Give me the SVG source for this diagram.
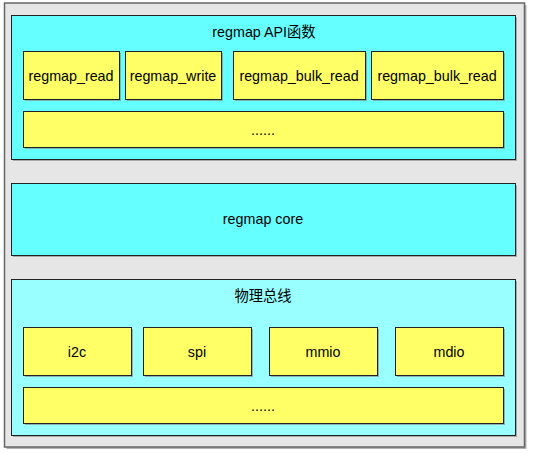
<svg xmlns="http://www.w3.org/2000/svg" width="534" height="453" viewBox="0 0 534 453">
<style>
.sh{fill:#808080;opacity:0.6}
.outer{fill:#e6e6e6;stroke:#666;stroke-width:1.5}
.c1{fill:#66ffff;stroke:#222;stroke-width:1}
.c2{fill:#99ffff;stroke:#222;stroke-width:1}
.y{fill:#ffff66;stroke:#222;stroke-width:1}
text{font-family:"Liberation Sans","Noto Sans CJK SC",Arial,sans-serif;font-size:14.3px;fill:#000;text-anchor:middle;dominant-baseline:central}
</style>
<rect width="534" height="453" fill="#fff"/>
<g id="outer">
<rect class="sh" x="6.5" y="5" width="520" height="444"/>
<rect class="outer" x="4.5" y="3" width="520" height="444"/>
</g>
<g id="api">
<rect class="sh" x="13" y="17" width="504" height="144"/>
<rect class="c1" x="11.5" y="15.5" width="504" height="144"/>
<text x="264" y="32">regmap API函数</text>
</g>
<g id="regmap_read">
<rect class="sh" x="25" y="53" width="96" height="48"/>
<rect class="y" x="23.5" y="51.5" width="96" height="48"/>
<text x="71" y="75.5">regmap_read</text>
</g>
<g id="regmap_write">
<rect class="sh" x="127" y="53" width="96" height="48"/>
<rect class="y" x="125.5" y="51.5" width="96" height="48"/>
<text x="173" y="75.5">regmap_write</text>
</g>
<g id="regmap_bulk_read1">
<rect class="sh" x="235" y="53" width="132" height="48"/>
<rect class="y" x="233.5" y="51.5" width="132" height="48"/>
<text x="299" y="75.5">regmap_bulk_read</text>
</g>
<g id="regmap_bulk_read2">
<rect class="sh" x="373" y="53" width="132" height="48"/>
<rect class="y" x="371.5" y="51.5" width="132" height="48"/>
<text x="437" y="75.5">regmap_bulk_read</text>
</g>
<g id="api_more">
<rect class="sh" x="25" y="113" width="480" height="36"/>
<rect class="y" x="23.5" y="111.5" width="480" height="36"/>
<text x="263" y="130">......</text>
</g>
<g id="core">
<rect class="sh" x="13" y="185" width="504" height="72"/>
<rect class="c1" x="11.5" y="183.5" width="504" height="72"/>
<text x="263" y="219">regmap core</text>
</g>
<g id="bus">
<rect class="sh" x="13" y="281" width="504" height="156"/>
<rect class="c2" x="11.5" y="279.5" width="504" height="156"/>
<text x="263" y="296">物理总线</text>
</g>
<g id="i2c">
<rect class="sh" x="25" y="329" width="108" height="48"/>
<rect class="y" x="23.5" y="327.5" width="108" height="48"/>
<text x="77" y="351.5">i2c</text>
</g>
<g id="spi">
<rect class="sh" x="145" y="329" width="108" height="48"/>
<rect class="y" x="143.5" y="327.5" width="108" height="48"/>
<text x="197" y="351.5">spi</text>
</g>
<g id="mmio">
<rect class="sh" x="271" y="329" width="108" height="48"/>
<rect class="y" x="269.5" y="327.5" width="108" height="48"/>
<text x="323" y="351.5">mmio</text>
</g>
<g id="mdio">
<rect class="sh" x="397" y="329" width="108" height="48"/>
<rect class="y" x="395.5" y="327.5" width="108" height="48"/>
<text x="449" y="351.5">mdio</text>
</g>
<g id="bus_more">
<rect class="sh" x="25" y="389" width="480" height="36"/>
<rect class="y" x="23.5" y="387.5" width="480" height="36"/>
<text x="263" y="406">......</text>
</g>
<g id="connectors"></g>
</svg>
